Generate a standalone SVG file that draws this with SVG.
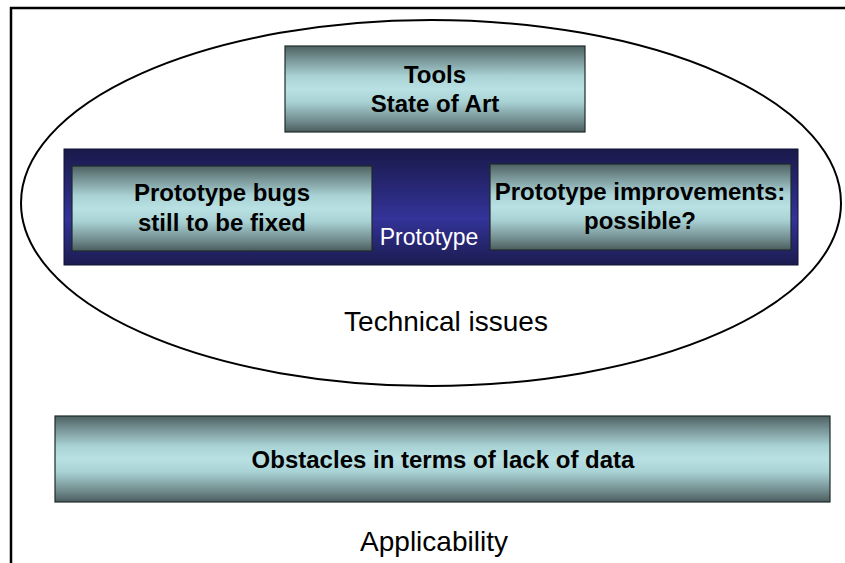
<svg xmlns="http://www.w3.org/2000/svg" width="845" height="563" viewBox="0 0 845 563">
<defs>
<linearGradient id="teal" x1="0" y1="0" x2="0" y2="1">
<stop offset="0" stop-color="#4d6162"/>
<stop offset="0.12" stop-color="#6f898b"/>
<stop offset="0.35" stop-color="#a9d2d5"/>
<stop offset="0.5" stop-color="#b9e1e4"/>
<stop offset="0.65" stop-color="#a9d2d5"/>
<stop offset="0.88" stop-color="#6f898b"/>
<stop offset="1" stop-color="#4a5c5d"/>
</linearGradient>
<linearGradient id="navy" x1="0" y1="0" x2="0" y2="1">
<stop offset="0" stop-color="#19194a"/>
<stop offset="0.6" stop-color="#333399"/>
<stop offset="1" stop-color="#1b1b50"/>
</linearGradient>
<style>
.box{fill:url(#teal);stroke:#1e2a2a;stroke-width:1.2}
.b{font-family:"Liberation Sans",Arial,sans-serif;font-weight:bold;font-size:24px;fill:#000;text-anchor:middle}
.r{font-family:"Liberation Sans",Arial,sans-serif;font-size:28px;fill:#000;text-anchor:middle}
</style>
</defs>
<rect width="845" height="563" fill="#fff"/>
<path d="M11,563 V8 H845" fill="none" stroke="#000" stroke-width="2.5"/>
<g id="technical-issues">
<ellipse cx="431" cy="203" rx="410" ry="183" fill="none" stroke="#000" stroke-width="2"/>
<text class="r" x="446" y="331">Technical issues</text>
</g>
<g id="tools">
<rect class="box" x="285" y="46" width="300" height="86"/>
<text class="b" x="435" y="83">Tools</text>
<text class="b" x="435" y="112">State of Art</text>
</g>
<g id="prototype">
<rect x="64" y="149" width="734" height="116" fill="url(#navy)" stroke="#111133" stroke-width="1"/>
<text x="429" y="245" font-family="Liberation Sans, Arial, sans-serif" font-size="23" fill="#fff" text-anchor="middle">Prototype</text>
</g>
<g id="bugs">
<rect class="box" x="72" y="166" width="300" height="85"/>
<text class="b" x="222" y="201">Prototype bugs</text>
<text class="b" x="222" y="231">still to be fixed</text>
</g>
<g id="improvements">
<rect class="box" x="490" y="164" width="301" height="86"/>
<text class="b" x="640" y="200">Prototype improvements:</text>
<text class="b" x="640" y="229">possible?</text>
</g>
<g id="obstacles">
<rect class="box" x="55" y="416" width="775" height="86"/>
<text class="b" x="443" y="468">Obstacles in terms of lack of data</text>
</g>
<g id="applicability">
<text class="r" x="434" y="551">Applicability</text>
</g>
<g id="connectors"/>
</svg>
